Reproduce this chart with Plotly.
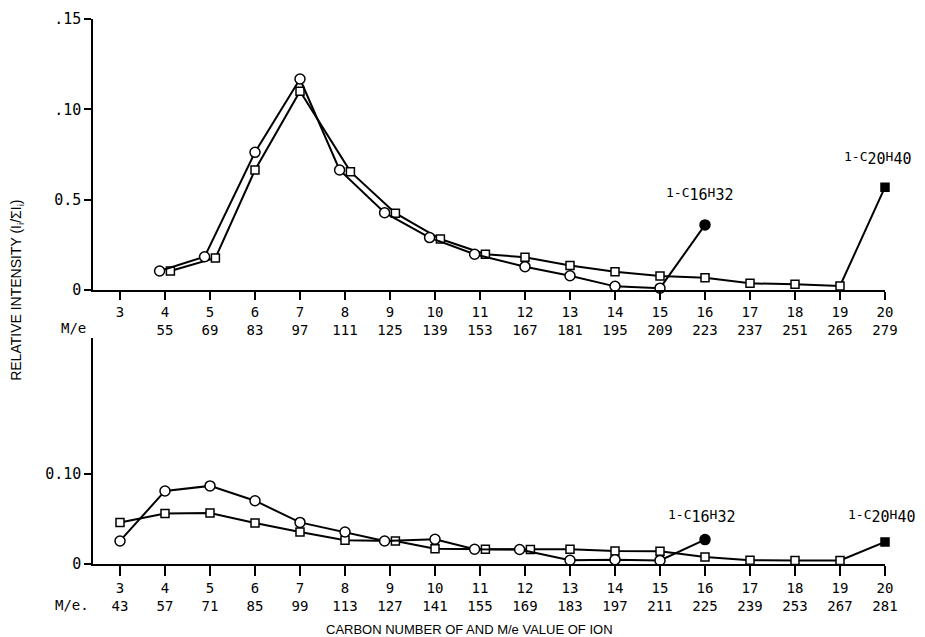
import plotly.graph_objects as go

# ---------------- data ----------------
carbon = list(range(3, 21))
me_top = [None, 55, 69, 83, 97, 111, 125, 139, 153, 167, 181, 195, 209, 223, 237, 251, 265, 279]
me_bot = [43, 57, 71, 85, 99, 113, 127, 141, 155, 169, 183, 197, 211, 225, 239, 253, 267, 281]

# top panel (carbon 4..16 circles, 4..20 squares)
top_circle_c = list(range(4, 17))
top_circle = [0.0105, 0.0184, 0.0762, 0.1168, 0.0664, 0.0428, 0.0290, 0.0198, 0.0129, 0.0079, 0.0020, 0.0010, 0.0360]
top_square_c = list(range(4, 21))
top_square = [0.0105, 0.0177, 0.0664, 0.1100, 0.0655, 0.0425, 0.0282, 0.0198, 0.0181, 0.0135, 0.0101, 0.0078,
              0.0068, 0.0037, 0.0031, 0.0022, 0.0569]

# bottom panel (carbon 3..16 circles, 3..20 squares)
bot_circle_c = list(range(3, 17))
bot_circle = [0.0255, 0.0808, 0.0864, 0.0700, 0.0460, 0.0354, 0.0255, 0.0273, 0.0163, 0.0160, 0.0041, 0.0048, 0.0040, 0.0270]
bot_square_c = list(range(3, 21))
bot_square = [0.0458, 0.0558, 0.0565, 0.0454, 0.0354, 0.0262, 0.0255, 0.0170, 0.0163, 0.0160, 0.0163, 0.0144,
              0.0140, 0.0078, 0.0041, 0.0040, 0.0040, 0.0244]

top_yticks = [0, 0.05, 0.10, 0.15]
top_yticktext = ["0", "0.5", ".10", ".15"]
bot_yticks = [0, 0.10]
bot_yticktext = ["0", "0.10"]

# ---------------- helpers ----------------
MONO = "DejaVu Sans Mono"
SANS = "Liberation Sans"
DODGE = 0.12
CLOSE = 0.003


def dodged(cx, cy, sx, sy):
    """shift circle left / square right where the two series nearly coincide"""
    smap = dict(zip(sx, sy))
    cmap = dict(zip(cx, cy))
    cxd = [c - DODGE if c in smap and abs(smap[c] - v) < CLOSE else c for c, v in zip(cx, cy)]
    sxd = [c + DODGE if c in cmap and abs(cmap[c] - v) < CLOSE else c for c, v in zip(sx, sy)]
    return cxd, sxd


def colors(n):
    # last point is the filled (parent olefin) marker
    return ["white"] * (n - 1) + ["black"]


fig = go.Figure()

for (cx, cy, sx, sy, xa, ya) in [
    (top_circle_c, top_circle, top_square_c, top_square, "x", "y"),
    (bot_circle_c, bot_circle, bot_square_c, bot_square, "x2", "y2"),
]:
    cxd, sxd = dodged(cx, cy, sx, sy)
    fig.add_trace(go.Scatter(
        x=sxd, y=sy, xaxis=xa, yaxis=ya, mode="lines+markers", cliponaxis=False,
        line=dict(color="black", width=2),
        marker=dict(symbol="square", size=8, color=colors(len(sy)), line=dict(color="black", width=1.5)),
        showlegend=False, hoverinfo="x+y"))
    fig.add_trace(go.Scatter(
        x=cxd, y=cy, xaxis=xa, yaxis=ya, mode="lines+markers", cliponaxis=False,
        line=dict(color="black", width=2),
        marker=dict(symbol="circle", size=10, color=colors(len(cy)), line=dict(color="black", width=1.5)),
        showlegend=False, hoverinfo="x+y"))

top_ticktext = [f"{c}" if m is None else f"{c}<br>{m}" for c, m in zip(carbon, me_top)]
bot_ticktext = [f"{c}<br>{m}" for c, m in zip(carbon, me_bot)]

axis_common = dict(showline=True, linecolor="black", linewidth=1.5, showgrid=False, zeroline=False,
                   ticks="outside", tickwidth=1.5, tickcolor="black", automargin=False)
xfont = dict(family=MONO, size=14, color="black")
yfont = dict(family=MONO, size=15, color="black")

XR = [2.4, 20.0]
# the page body has an 8px margin, so the figure is drawn 8px smaller and shifted
fig.update_layout(
    width=917, height=629,
    margin=dict(l=85, r=40, t=11, b=73),
    paper_bgcolor="white", plot_bgcolor="white",
    xaxis=dict(range=XR, domain=[0, 1], anchor="y", tickmode="array", tickvals=carbon, ticklen=8,
               ticktext=top_ticktext, tickfont=xfont, **axis_common),
    yaxis=dict(range=[0, 0.15], domain=[0.5028, 1], anchor="x", tickmode="array", ticklen=7,
               tickvals=top_yticks, ticktext=top_yticktext, tickfont=yfont, **axis_common),
    xaxis2=dict(range=XR, domain=[0, 1], anchor="y2", tickmode="array", tickvals=carbon, ticklen=10,
                ticktext=bot_ticktext, tickfont=xfont, **axis_common),
    yaxis2=dict(range=[0, 0.25], domain=[0, 0.4147], anchor="x2", tickmode="array", ticklen=7,
                tickvals=bot_yticks, ticktext=bot_yticktext, tickfont=yfont, **axis_common),
)


def formula(n, h):
    return (f"1-C<sub><span style='font-size:15px'>{n}</span></sub>H"
            f"<sub><span style='font-size:15px'>{h}</span></sub>")


ann_font = dict(family=MONO, size=13, color="black")
annotations = [
    dict(x=15.08, y=0.0526, xref="x", yref="y", text=formula(16, 32)),
    dict(x=19.05, y=0.0730, xref="x", yref="y", text=formula(20, 40)),
    dict(x=15.13, y=0.0525, xref="x2", yref="y2", text=formula(16, 32)),
    dict(x=19.14, y=0.0525, xref="x2", yref="y2", text=formula(20, 40)),
]
for a in annotations:
    fig.add_annotation(showarrow=False, xanchor="left", yanchor="middle", font=ann_font, **a)

# M/e row labels
fig.add_annotation(x=-0.0063, y=0.433, xref="paper", yref="paper", text="M/e", showarrow=False,
                   xanchor="right", yanchor="middle", font=dict(family=MONO, size=14, color="black"))
fig.add_annotation(x=-0.0030, y=-0.0752, xref="paper", yref="paper", text="M/e.", showarrow=False,
                   xanchor="right", yanchor="middle", font=dict(family=MONO, size=14, color="black"))

# axis titles
fig.add_annotation(x=0.475, y=-0.121, xref="paper", yref="paper",
                   text="CARBON NUMBER OF AND M/e VALUE OF ION", showarrow=False,
                   xanchor="center", yanchor="middle", font=dict(family=SANS, size=13, color="black"))
fig.add_annotation(x=-0.096, y=0.503, xref="paper", yref="paper", textangle=-90,
                   text="RELATIVE INTENSITY (I<sub>i</sub>/ΣI<sub>i</sub>)", showarrow=False,
                   xanchor="center", yanchor="middle", font=dict(family=SANS, size=14, color="black"))

fig.write_html("out.html")
